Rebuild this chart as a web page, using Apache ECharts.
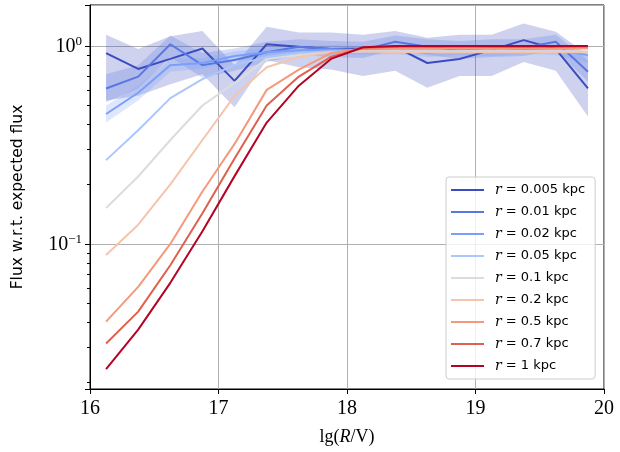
<!DOCTYPE html>
<html>
<head>
<meta charset="utf-8">
<script src="https://cdn.jsdelivr.net/npm/echarts@6/dist/echarts.min.js"></script>
<style>
  html, body { margin: 0; padding: 0; background: #fff; }
  #chart { width: 620px; height: 452px; }
</style>
</head>
<body>
<div id="chart"></div>
<script>
// lg(R/V) positions of the points
var xs = [16.125, 16.375, 16.625, 16.875, 17.125, 17.375, 17.625, 17.875,
          18.125, 18.375, 18.625, 18.875, 19.125, 19.375, 19.625, 19.875];

var names = ['0.005', '0.01', '0.02', '0.05', '0.1', '0.2', '0.5', '0.7', '1'];
var colors = ['#3b4cc0', '#5977e3', '#7b9ff9', '#aac7fd', '#dddcdc',
              '#f4c5ad', '#f49a7b', '#de604d', '#b40426'];

// flux ratio per radius
var r0005 = [0.92, 0.765, 0.86, 0.97, 0.666, 1.02, 0.99, 0.965, 0.97, 0.99, 0.82, 0.86, 0.955, 1.07, 0.965, 0.61];
var r001  = [0.61, 0.70, 1.02, 0.80, 0.85, 0.93, 0.99, 0.965, 0.955, 1.05, 0.99, 0.955, 0.975, 0.98, 1.05, 0.74];
var r002  = [0.453, 0.58, 0.80, 0.82, 0.89, 0.93, 0.95, 0.96, 0.95, 0.96, 0.92, 0.95, 0.94, 0.96, 0.95, 0.90];
var r005  = [0.265, 0.375, 0.545, 0.68, 0.80, 0.88, 0.92, 0.94, 0.94, 0.95, 0.94, 0.94, 0.95, 0.94, 0.95, 0.93];
var r01   = [0.152, 0.219, 0.335, 0.50, 0.65, 0.86, 0.90, 0.93, 0.94, 0.94, 0.94, 0.94, 0.94, 0.94, 0.94, 0.94];
var r02   = [0.088, 0.125, 0.20, 0.335, 0.56, 0.78, 0.88, 0.93, 0.94, 0.93, 0.93, 0.93, 0.93, 0.93, 0.93, 0.93];
var r05   = [0.0405, 0.0607, 0.10, 0.184, 0.32, 0.60, 0.76, 0.92, 0.97, 0.97, 0.97, 0.97, 0.97, 0.97, 0.97, 0.97];
var r07   = [0.0314, 0.0455, 0.078, 0.143, 0.27, 0.50, 0.70, 0.88, 0.98, 0.99, 0.99, 0.99, 0.99, 0.99, 0.99, 0.99];
var r1    = [0.0233, 0.0369, 0.0636, 0.116, 0.22, 0.41, 0.63, 0.86, 0.985, 1.0, 1.0, 1.0, 1.0, 1.0, 1.0, 1.0];
var values = [r0005, r001, r002, r005, r01, r02, r05, r07, r1];

// scatter bands (upper / lower)
var up0005  = [1.14, 0.965, 1.12, 1.19, 0.80, 1.25, 1.17, 1.17, 1.14, 1.19, 1.10, 1.14, 1.14, 1.30, 1.18, 0.90];
var low0005 = [0.53, 0.56, 0.64, 0.72, 0.49, 0.85, 0.78, 0.76, 0.705, 0.75, 0.615, 0.705, 0.705, 0.83, 0.75, 0.44];
var up001   = [0.72, 0.80, 1.13, 0.92, 0.97, 1.05, 1.08, 1.06, 1.05, 1.13, 1.08, 1.06, 1.08, 1.08, 1.14, 0.85];
var low001  = [0.52, 0.61, 0.88, 0.69, 0.75, 0.83, 0.90, 0.88, 0.87, 0.96, 0.90, 0.86, 0.88, 0.89, 0.95, 0.66];
var up002   = [0.50, 0.63, 0.86, 0.87, 0.94, 0.98, 1.0, 1.01, 1.0, 1.01, 0.98, 1.0, 0.99, 1.01, 1.0, 0.94];
var low002  = [0.41, 0.53, 0.74, 0.77, 0.84, 0.88, 0.90, 0.91, 0.90, 0.91, 0.88, 0.90, 0.89, 0.91, 0.90, 0.82];

var xTicks = [16, 17, 18, 19, 20];

function band(up, low, color) {
  return {
    type: 'custom',
    silent: true,
    z: 1,
    clip: true,
    data: [[xs[0], up[0]]],
    renderItem: function (params, api) {
      var pts = [];
      for (var i = 0; i < xs.length; i++) pts.push(api.coord([xs[i], up[i]]));
      for (var j = xs.length - 1; j >= 0; j--) pts.push(api.coord([xs[j], low[j]]));
      return {
        type: 'polygon',
        shape: { points: pts },
        style: { fill: color, opacity: 0.25 }
      };
    }
  };
}

var series = [
  band(up0005, low0005, colors[0]),
  band(up001, low001, colors[1]),
  band(up002, low002, colors[2])
];
values.forEach(function (v, k) {
  series.push({
    name: names[k],
    type: 'line',
    data: v.map(function (y, i) { return [xs[i], y]; }),
    showSymbol: false,
    symbol: 'none',
    z: 3 + k,
    lineStyle: { width: 2, color: colors[k] },
    itemStyle: { color: colors[k] }
  });
});

var chart = echarts.init(document.getElementById('chart'));
chart.setOption({
  animation: false,
  grid: { left: 90, right: 16, top: 5, bottom: 63, show: true, borderColor: '#000', borderWidth: 1 },
  legend: {
    data: names,
    orient: 'vertical',
    left: 446,
    top: 177,
    padding: [5, 10, 5, 5],
    itemWidth: 33,
    itemHeight: 2,
    itemGap: 6,
    icon: 'rect',
    backgroundColor: 'rgba(255,255,255,0.8)',
    borderColor: '#cccccc',
    borderWidth: 1,
    borderRadius: 3,
    formatter: function (n) { return '{i|r} = ' + n + ' kpc'; },
    textStyle: {
      fontFamily: 'DejaVu Sans',
      fontSize: 13,
      lineHeight: 16,
      color: '#000',
      padding: [0, 0, 0, 6],
      rich: {
        i: { fontFamily: 'DejaVu Serif', fontStyle: 'italic', fontSize: 14, lineHeight: 16 }
      }
    }
  },
  xAxis: {
    type: 'value',
    min: 16,
    max: 20,
    interval: 1,
    name: '{n|lg(}{i|R}{n|/V)}',
    nameLocation: 'middle',
    nameGap: 39,
    nameTextStyle: {
      rich: {
        n: { fontFamily: 'Liberation Serif', fontSize: 18, color: '#000' },
        i: { fontFamily: 'Liberation Serif', fontStyle: 'italic', fontSize: 18, color: '#000' }
      }
    },
    axisLine: { show: true, lineStyle: { color: '#000', width: 1 } },
    axisTick: { show: true, length: 5, lineStyle: { color: '#000' } },
    axisLabel: {
      margin: 10,
      fontFamily: 'Liberation Serif',
      fontSize: 20,
      color: '#000',
      formatter: function (v) { return xTicks.indexOf(v) >= 0 ? String(v) : ''; }
    },
    splitLine: { show: true, lineStyle: { color: '#b0b0b0', width: 1 } }
  },
  yAxis: {
    type: 'log',
    logBase: 10,
    min: 0.0185,
    max: 1.61,
    name: 'Flux w.r.t. expected flux',
    nameLocation: 'middle',
    nameGap: 64,
    nameTextStyle: { fontFamily: 'DejaVu Sans', fontSize: 15.5, color: '#000' },
    axisLine: { show: true, lineStyle: { color: '#000', width: 1 } },
    axisTick: { show: true, length: 5, lineStyle: { color: '#000' } },
    minorTick: { show: true, splitNumber: 9, length: 3, lineStyle: { color: '#000' } },
    axisLabel: {
      margin: 8,
      showMinLabel: false,
      showMaxLabel: false,
      formatter: function (v) {
        if (Math.abs(v - 1) < 1e-6) return '{b|10}{s|0}';
        if (Math.abs(v - 0.1) < 1e-6) return '{b|10}{s|−1}';
        return '';
      },
      rich: {
        b: { fontFamily: 'Liberation Serif', fontSize: 20, color: '#000', verticalAlign: 'bottom' },
        s: { fontFamily: 'Liberation Serif', fontSize: 13, color: '#000', verticalAlign: 'bottom', padding: [0, 0, 9, 0] }
      }
    },
    splitLine: { show: true, lineStyle: { color: '#b0b0b0', width: 1 } }
  },
  series: series
});
</script>
</body>
</html>
